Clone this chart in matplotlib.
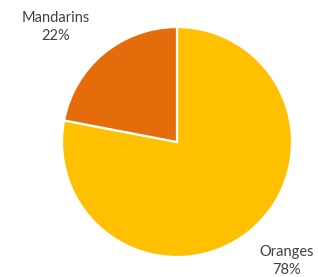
import matplotlib
matplotlib.use('Agg')
import matplotlib.pyplot as plt

# data
categories = ['Oranges', 'Mandarins']
shares = [78, 22]
colors = ['#FFC000', '#E46C0A']

fig = plt.figure(figsize=(3.18, 2.77), dpi=100)
ax = fig.add_axes([0, 0, 1, 1])

ax.pie(shares, colors=colors, startangle=90, counterclock=False,
       center=(177, 135), radius=115, frame=True,
       wedgeprops=dict(edgecolor='white', linewidth=1.6))
ax.set_xlim(0, 318)
ax.set_ylim(0, 277)
ax.set_aspect('auto')
ax.axis('off')

# labels
label_pos = {'Oranges': (287, 16), 'Mandarins': (56, 250)}
for name, val in zip(categories, shares):
    x, y = label_pos[name]
    ax.text(x, y, f'{name}\n{val}%', ha='center', va='center',
            fontsize=10.5, color='#404040', family=['Lato', 'DejaVu Sans'],
            linespacing=1.45)

fig.savefig('out.png', dpi=100)
